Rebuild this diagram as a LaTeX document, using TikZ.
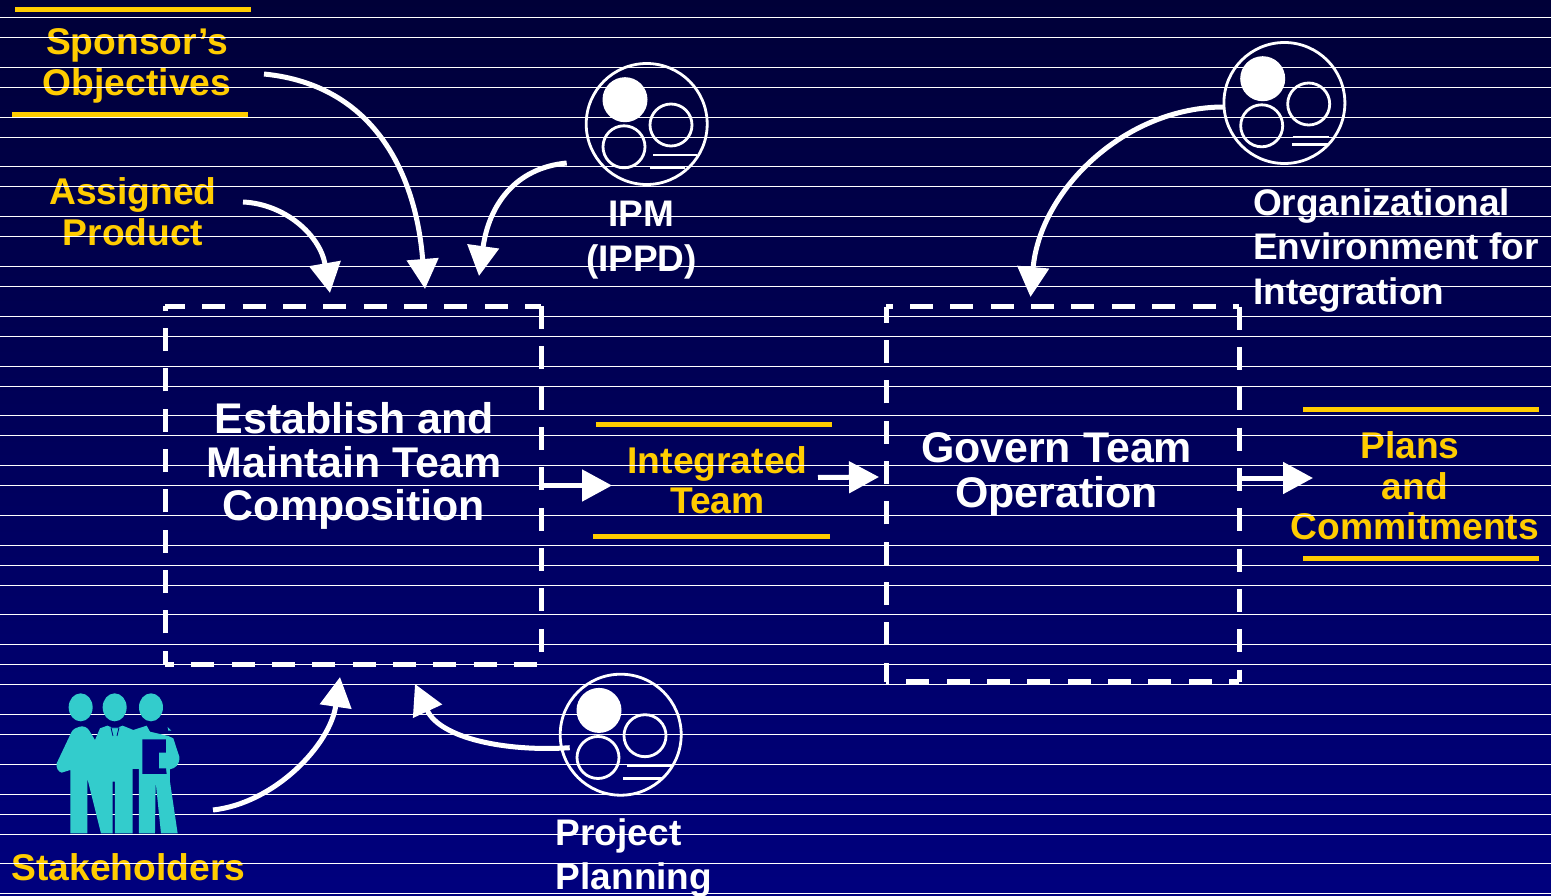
\documentclass[tikz,border=0pt]{standalone}
\usepackage{fontspec}
\setmainfont{Liberation Sans}
\usetikzlibrary{arrows.meta,shapes.geometric}
\definecolor{amber}{HTML}{FFCC00}
\definecolor{teal2}{HTML}{33CCCC}
\definecolor{bgtop}{HTML}{000038}
\definecolor{bgmid}{HTML}{000066}
\definecolor{bgbot}{HTML}{00007E}
\tikzset{
  x=1pt,y=-1pt,
  big/.style={text=white,font=\bfseries\fontsize{42.9}{43.5}\selectfont,align=center,inner sep=0pt},
  wlab/.style={text=white,font=\bfseries\fontsize{37}{44.5}\selectfont,inner sep=0pt},
  ylab/.style={text=amber,font=\bfseries\fontsize{37.2}{40.5}\selectfont,align=center,inner sep=0pt},
  bar/.style={draw=amber,line width=5pt},
  conn/.style={draw=white,line width=5pt,-{Triangle[length=30pt,width=31pt,fill=white]}},
  side/.style={draw=white,line width=5pt},
  ring/.style={draw=white,line width=2.8pt},
  blank/.style={inner sep=0pt,outer sep=0pt,draw=none},
  dash1/.style={dash pattern=on 23pt off 17.35pt,dash phase=#1},
  pics/env/.style={code={
    \fill[white] (-21.7,-24.3) circle[radius=22.5];
    \draw[ring] (24.3,1) circle[radius=21];
    \draw[ring] (-22.7,22.8) circle[radius=21];
  }}
}
\begin{document}
\begin{tikzpicture}
\useasboundingbox (0,0) rectangle (1551,896);
\shade[top color=bgtop,middle color=bgmid,bottom color=bgbot] (0,0) rectangle (1551,896);
% text under the rules
\node[ylab] (sponsor) at (137,66) {Sponsor’s\\Objectives};
\node[ylab] (assigned) at (133,211.5) {Assigned\\Product};
\node[ylab] (team) at (717.5,480) {Integrated\\Team};
\node[ylab] (plans) at (1415,486) {Plans\hspace*{10pt}\\and\\Commitments};
\node[ylab] (stake) at (128.5,867) {Stakeholders};
\node[wlab,align=center] (ipmlab) at (641.5,240) {IPM\\(IPPD)};
\node[wlab,align=left] (orglab) at (1396,250.5) {Organizational\\Environment for\\Integration};
\node[wlab,align=left] (pplab) at (634,858) {Project\\Planning};
\node[big] (t1) at (354,466) {Establish and\\Maintain Team\\Composition};
\node[big,font=\bfseries\fontsize{42.9}{45}\selectfont] (t2) at (1056.5,474) {Govern Team\\Operation};
% rules
\foreach \yy in {17,37,67,87,117,137,166,186,216,236,266,286,316,336,366,386,415,435,465,485,515,545,565,585,614,644,664,684,714,734,764,794,814,834,863,893}
  \draw[white,line width=1pt] (0,\yy+.5) -- (1551,\yy+.5);
% bars
\draw[bar] (15,10) -- (251,10);
\draw[bar] (12,115) -- (248,115);
\draw[bar] (596,424) -- (832,424);
\draw[bar] (593,536) -- (830,536);
\draw[bar] (1303,409) -- (1539,409);
\draw[bar] (1303,558) -- (1539,558);
% boxes
\node[blank,minimum width=376pt,minimum height=358pt] (box1) at (353,485) {};
\node[blank,minimum width=353pt,minimum height=375pt] (box2) at (1062.5,494) {};
\draw[side,dash1=3] (box1.north west) -- (box1.north east);
\draw[side,dash1=0] (box1.north east) -- (box1.south east);
\draw[side,dash1=36.4] (box1.south east) -- (box1.south west);
\draw[side,dash1=9.8] (box1.south west) -- (box1.north west);
\draw[side,dash1=16.3] (box2.north west) -- (box2.north east);
\draw[side,dash1=0] (box2.north east) -- (box2.south east);
\draw[side,dash1=13] (box2.south east) -- (box2.south west);
\draw[side,dash1=4.3] (box2.south west) -- (box2.north west);
% icons
\node[circle,ring,minimum size=121pt,inner sep=0pt,outer sep=0pt] (ipm) at (646.7,124) {};
\pic at (ipm.center) {env};
\draw[ring] ([shift={(6.3,31)}]ipm.center) -- ([shift={(50,31)}]ipm.center);
\draw[ring] ([shift={(3.3,44)}]ipm.center) -- ([shift={(38.3,44)}]ipm.center);
\node[circle,ring,minimum size=121pt,inner sep=0pt,outer sep=0pt] (org) at (1284.4,103) {};
\pic at (org.center) {env};
\draw[ring] ([shift={(8.3,34)}]org.center) -- ([shift={(45,34)}]org.center);
\draw[ring] ([shift={(7.6,41.5)}]org.center) -- ([shift={(43.6,41.5)}]org.center);
\node[circle,ring,minimum size=121pt,inner sep=0pt,outer sep=0pt] (pp) at (620.7,734.7) {};
\pic at (pp.center) {env};
\draw[ring] ([shift={(6,31)}]pp.center) -- ([shift={(51,31)}]pp.center);
\draw[ring] ([shift={(2.3,43.6)}]pp.center) -- ([shift={(41,43.6)}]pp.center);
% people
\node[blank,minimum width=124pt,minimum height=140pt] (people) at (118,763) {};
\begin{scope}[shift={(0,660)},x=0.3333pt,y=-0.3333pt]
\fill[teal2] (242,142) ellipse[x radius=36,y radius=42];
\fill[teal2] (344,142) ellipse[x radius=36,y radius=42];
\fill[teal2] (453,142) ellipse[x radius=36,y radius=42];
\fill[teal2] (170,310) -- (215,215) .. controls (225,200) and (255,190) .. (268,212) -- (285,240) -- (300,205) -- (322,197) -- (335,202) -- (355,202) -- (368,197) -- (400,210) -- (440,197) -- (450,215) -- (505,228) -- (520,235) -- (538,290) .. controls (540,315) and (525,325) .. (510,328) -- (510,365) -- (533,520) -- (483,520) -- (467,365) -- (465,520) -- (417,520) -- (417,327) -- (398,327) -- (398,520) -- (345,520) -- (345,365) -- (338,365) -- (338,520) -- (303,520) -- (262,355) -- (262,520) -- (211,520) -- (211,330) -- (185,338) .. controls (175,335) and (168,325) .. (170,310) -- cycle;
\fill[teal2] (503,201) -- (514,212) -- (505,212) -- cycle;
\fill[bgbot] (427,238) -- (498,238) -- (498,278) -- (477,278) -- (477,325) -- (498,325) -- (500,342) -- (427,342) -- cycle;
\draw[bgbot,line width=.8pt] (333,203) -- (339,228) (357,203) -- (351,228) (333,203) -- (357,203);
\end{scope}
% connectors
\draw[conn] ([shift={(127,8)}]sponsor.center) .. controls (375,85) and (416,175) .. ([shift={(260,-17)}]box1.north west);
\draw[conn] ([shift={(110,-9.5)}]assigned.center) .. controls (285,204) and (320,235) .. ([shift={(165,-13)}]box1.north west);
\draw[conn] ([shift={(-80,39)}]ipm.center) .. controls (515,168) and (489,205) .. ([shift={(314,-30)}]box1.north west);
\draw[conn] ([shift={(-60.5,4)}]org.center) .. controls (1125,107) and (1040,190) .. ([shift={(144.5,-9.5)}]box2.north west);
\draw[conn] ([shift={(95,47)}]people.center) .. controls (275,803) and (330,745) .. ([shift={(175,13)}]box1.south west);
\draw[conn] ([shift={(-51,13)}]pp.center) .. controls (505,752) and (440,738) .. ([shift={(250,20)}]box1.south west);
\draw[conn] (box1.east |- 0,485.5) -- ([shift={(-105.5,5.5)}]team.center);
\draw[conn] ([shift={(100.5,-2.5)}]team.center) -- ([shift={(-7,-17)}]box2.west);
\draw[conn] (box2.east |- 0,478) -- ([shift={(-102,-8)}]plans.center);
\end{tikzpicture}
\end{document}
